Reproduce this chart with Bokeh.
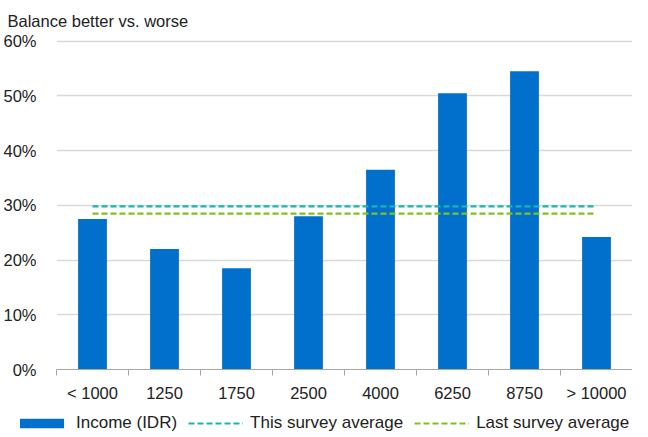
from bokeh.plotting import figure
from bokeh.models import (ColumnDataSource, FixedTicker, NumeralTickFormatter,
                          Legend, LegendItem, Range1d)
from bokeh.embed import file_html
from bokeh.resources import INLINE

# ---- data ----
categories = ["< 1000", "1250", "1750", "2500", "4000", "6250", "8750", "> 10000"]
income_values = [0.275, 0.22, 0.185, 0.28, 0.365, 0.505, 0.545, 0.242]
this_survey_avg = 0.298
last_survey_avg = 0.285
y_ticks = [0, 0.1, 0.2, 0.3, 0.4, 0.5, 0.6]
series_names = ["Income (IDR)", "This survey average", "Last survey average"]

FONT = "Liberation Sans"
BAR = "#0070CC"
TEAL = "#17B5B5"
GREEN = "#7FC31C"
TXT = "#222222"

xs = [i + 0.5 for i in range(len(categories))]
src = ColumnDataSource(dict(x=xs, y=income_values))
avg_src = ColumnDataSource(dict(x=[xs[0], xs[-1]],
                                this=[this_survey_avg] * 2,
                                last=[last_survey_avg] * 2))

p = figure(width=632, height=407, output_backend="svg", toolbar_location=None,
           x_range=Range1d(0, len(categories)), y_range=Range1d(0, 0.603),
           min_border_left=49, min_border_right=0, min_border_top=38,
           min_border_bottom=38)
p.outline_line_color = None
p.background_fill_color = "white"
p.border_fill_color = "white"

p.title.text = "Balance better vs. worse"
p.title.text_font = FONT
p.title.text_font_size = "16.5px"
p.title.text_line_height = 1.0
p.title.text_font_style = "normal"
p.title.text_color = TXT
p.title.offset = -49
p.title.standoff = 19

p.vbar(x="x", top="y", width=0.4, source=src, fill_color=BAR, line_color=None)
p.line(x="x", y="this", source=avg_src, line_color=TEAL, line_width=2.2, line_dash="6 3")
p.line(x="x", y="last", source=avg_src, line_color=GREEN, line_width=2.2, line_dash="6 3")

# axes
p.xgrid.visible = False
p.ygrid.grid_line_color = "#D9D9D9"
p.ygrid.grid_line_width = 1.6
p.yaxis.ticker = FixedTicker(ticks=y_ticks)
p.yaxis.formatter = NumeralTickFormatter(format="0%")
p.yaxis.axis_line_color = None
p.yaxis.major_tick_line_color = None
p.yaxis.minor_tick_line_color = None
p.yaxis.major_label_standoff = 14
p.yaxis.major_label_text_font = FONT
p.yaxis.major_label_text_font_size = "16.5px"
p.yaxis.major_label_text_color = TXT

p.xaxis.ticker = FixedTicker(ticks=xs, minor_ticks=list(range(len(categories) + 1)))
p.xaxis.major_label_overrides = {x: c for x, c in zip(xs, categories)}
p.xaxis.major_tick_out = 0
p.xaxis.major_tick_in = 0
p.xaxis.minor_tick_out = 6
p.xaxis.minor_tick_in = 0
p.xaxis.minor_tick_line_color = "#A6A6A6"
p.xaxis.axis_line_color = "#A6A6A6"
p.xaxis.axis_line_width = 1
p.xaxis.major_label_standoff = 8
p.xaxis.major_label_text_font = FONT
p.xaxis.major_label_text_font_size = "16.5px"
p.xaxis.major_label_text_color = TXT

# legend strip below the chart (its glyphs use the same data, kept out of view)
lg = figure(width=632, height=26, output_backend="svg", toolbar_location=None,
            x_range=Range1d(0, len(categories)), y_range=Range1d(5, 6),
            x_axis_location=None, y_axis_location=None,
            min_border=0, min_border_left=0, min_border_right=0,
            min_border_top=0, min_border_bottom=0)
lg.grid.visible = False
lg.outline_line_color = None
lg.background_fill_color = "white"
r1 = lg.vbar(x="x", top="y", width=0.4, source=src, fill_color=BAR, line_color=None)
r2 = lg.line(x="x", y="this", source=avg_src, line_color=TEAL, line_width=2.2, line_dash="6 3")
r3 = lg.line(x="x", y="last", source=avg_src, line_color=GREEN, line_width=2.2, line_dash="6 3")
legend = Legend(items=[LegendItem(label=series_names[0], renderers=[r1]),
                       LegendItem(label=series_names[1], renderers=[r2]),
                       LegendItem(label=series_names[2], renderers=[r3])],
                orientation="horizontal", location=(14, 0),
                glyph_width=55, glyph_height=12, label_standoff=7, spacing=11,
                padding=0, margin=0, border_line_color=None,
                background_fill_alpha=0, label_text_font=FONT,
                label_text_font_size="17px", label_text_color=TXT)
lg.add_layout(legend, "center")

open("out.html", "w").write(file_html([p, lg], INLINE))
